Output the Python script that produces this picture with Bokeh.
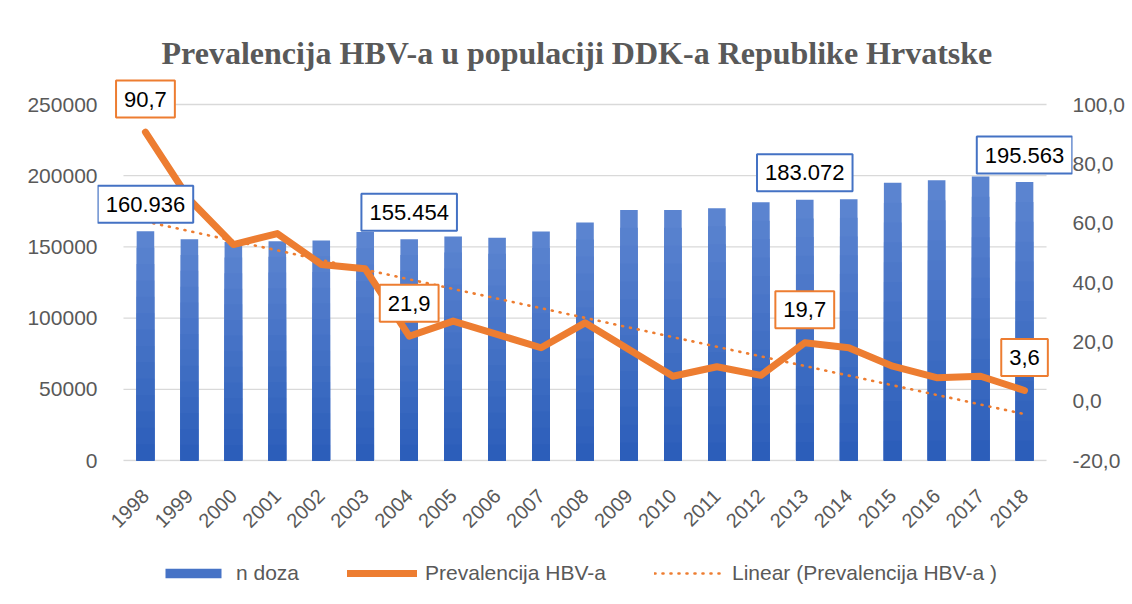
import numpy as np
from bokeh.plotting import figure
from bokeh.layouts import column
from bokeh.models import (Range1d, LinearAxis, FixedTicker, CustomJSTickFormatter,
                          Label, Legend, LegendItem)
from bokeh.embed import file_html
from bokeh.resources import INLINE

# ---------------- data ----------------
years = list(range(1998, 2019))
n_doza = [160936, 155400, 153500, 154000, 154500, 160500, 155454, 157300, 156400, 160800,
          167100, 176000, 176000, 177200, 181400, 183072, 183500, 195000, 196800, 199500, 195563]
prevalencija = [90.7, 68.0, 52.8, 56.5, 46.1, 44.6, 21.9, 27.0, 22.5, 18.0,
                26.4, 17.4, 8.4, 11.6, 8.7, 19.7, 18.0, 11.8, 7.9, 8.4, 3.6]
left_ticks = [0, 50000, 100000, 150000, 200000, 250000]
right_ticks = [-20, 0, 20, 40, 60, 80, 100]
bar_label_years = [1998, 2004, 2013, 2018]
line_label_years = [1998, 2004, 2013, 2018]
title_text = "Prevalencija HBV-a u populaciji DDK-a Republike Hrvatske"
legend_labels = ["n doza", "Prevalencija HBV-a", "Linear (Prevalencija HBV-a )"]

# ---------------- style / layout ----------------
BLUE = "#4472C4"
ORANGE = "#ED7D31"
GREY = "#595959"
GRID = "#d9d9d9"
SANS = "Liberation Sans"

W, H = 1128, 540
LEG_H = 56
FRAME_L, FRAME_R, FRAME_T, FRAME_B = 97, 1073, 78, 461     # canvas px
PX_PER_CAT = 44.0
ZERO_Y = 460                                               # canvas px of value 0
TOP_Y = 104                                                # canvas px of 250000 / 100,0
cat_half_extra = (FRAME_R - FRAME_L - PX_PER_CAT * (len(years) - 1)) / 2 / PX_PER_CAT

x_range = Range1d(years[0] - cat_half_extra, years[-1] + cat_half_extra)
l_per_px = (left_ticks[-1] - left_ticks[0]) / (ZERO_Y - TOP_Y)
r_per_px = (right_ticks[-1] - right_ticks[0]) / (ZERO_Y - TOP_Y)
y_range = Range1d(left_ticks[0] - (FRAME_B - ZERO_Y) * l_per_px,
                  left_ticks[-1] + (TOP_Y - FRAME_T) * l_per_px)
r_range = Range1d(right_ticks[0] - (FRAME_B - ZERO_Y) * r_per_px,
                  right_ticks[-1] + (TOP_Y - FRAME_T) * r_per_px)

p = figure(x_range=x_range, y_range=y_range, width=W, height=H,
           output_backend="svg", toolbar_location=None,
           min_border_left=FRAME_L, min_border_right=W - FRAME_R,
           min_border_top=FRAME_T, min_border_bottom=H - FRAME_B)
p.outline_line_color = None
p.background_fill_color = "white"
p.border_fill_color = "white"

# title
p.title.text = title_text
p.title.text_font = "Liberation Serif"
p.title.text_font_size = "32px"
p.title.text_font_style = "bold"
p.title.text_color = GREY
p.title.align = "left"
p.title.offset = 64
p.title.standoff = 16

# left axis
la = p.yaxis[0]
la.ticker = FixedTicker(ticks=left_ticks)
la.formatter = CustomJSTickFormatter(code="return tick.toFixed(0)")
la.axis_line_color = None
la.major_tick_line_color = None
la.minor_tick_line_color = None
la.major_tick_out = 0
la.major_tick_in = 0
la.minor_tick_out = 0
la.major_label_text_font = SANS
la.major_label_text_font_size = "21px"
la.major_label_text_color = GREY
la.major_label_standoff = 0

# right axis
p.extra_y_ranges = {"prev": r_range}
rax = LinearAxis(y_range_name="prev", ticker=FixedTicker(ticks=right_ticks),
                 formatter=CustomJSTickFormatter(code="return tick.toFixed(1).replace('.', ',')"))
rax.axis_line_color = None
rax.major_tick_line_color = None
rax.minor_tick_line_color = None
rax.major_tick_out = 0
rax.major_tick_in = 0
rax.minor_tick_out = 0
rax.major_label_text_font = SANS
rax.major_label_text_font_size = "21px"
rax.major_label_text_color = GREY
rax.major_label_standoff = 0
p.add_layout(rax, "right")

# x axis
xa = p.xaxis[0]
xa.ticker = FixedTicker(ticks=years)
xa.formatter = CustomJSTickFormatter(code="return tick.toFixed(0)")
xa.axis_line_color = None
xa.major_tick_line_color = None
xa.minor_tick_line_color = None
xa.major_tick_out = 0
xa.major_tick_in = 0
xa.minor_tick_out = 0
xa.major_label_orientation = np.pi / 4
xa.major_label_text_font = SANS
xa.major_label_text_font_size = "20px"
xa.major_label_text_color = GREY
xa.major_label_standoff = 31

# grid (drawn only across the category span)
p.xgrid.grid_line_color = None
p.ygrid.grid_line_color = None
p.segment(x0=[years[0] - 0.5] * len(left_ticks), y0=left_ticks,
          x1=[years[-1] + 0.5] * len(left_ticks), y1=left_ticks,
          line_color=GRID, line_width=1.3)

# bars with vertical gradient (nested bars, lightest full height first)
top_rgb = np.array([91, 132, 208])
bot_rgb = np.array([44, 94, 186])
N = 14
for k in range(N):
    frac = 1 - k / N
    t = k / (N - 1)
    c = (top_rgb * (1 - t) + bot_rgb * t).round().astype(int)
    color = "#%02x%02x%02x" % tuple(c)
    p.vbar(x=years, top=[v * frac for v in n_doza], width=0.4,
           fill_color=color, line_color=None)

# trend line (linear fit of the prevalence series)
xi = np.array(years, dtype=float)
slope, intercept = np.polyfit(xi, prevalencija, 1)
trend_x = [years[0], years[-1]]
trend_y = [intercept + slope * years[0], intercept + slope * years[-1]]
p.line(trend_x, trend_y, y_range_name="prev",
       line_color=ORANGE, line_width=2.6, line_dash="1 7", line_cap="round")

# prevalence line
p.line(years, prevalencija, y_range_name="prev", line_color=ORANGE,
       line_width=7, line_join="round", line_cap="round")

# data labels
for yr in bar_label_years:
    i = years.index(yr)
    txt = f"{n_doza[i]:,}".replace(",", ".")
    p.add_layout(Label(x=yr, y=n_doza[i], text=txt, text_align="center",
                       text_baseline="middle", y_offset=27,
                       text_font=SANS, text_font_size="22px", text_color="black",
                       background_fill_color="white", border_line_color=BLUE,
                       border_line_width=2, padding=(8, 11)))
for yr in line_label_years:
    i = years.index(yr)
    txt = f"{prevalencija[i]:.1f}".replace(".", ",")
    p.add_layout(Label(x=yr, y=prevalencija[i], y_range_name="prev", text=txt,
                       text_align="center", text_baseline="middle", y_offset=33,
                       text_font=SANS, text_font_size="22px", text_color="black",
                       background_fill_color="white", border_line_color=ORANGE,
                       border_line_width=2, padding=(8, 11)))

# ---------------- legend strip (separate small figure, frame aligned with p) ----------------
q = figure(width=W, height=LEG_H, output_backend="svg", toolbar_location=None,
           x_range=Range1d(0, 1), y_range=Range1d(0, 1),
           min_border_left=0, min_border_right=0, min_border_top=0, min_border_bottom=0)
q.axis.visible = False
q.grid.grid_line_color = None
q.outline_line_color = None
q.background_fill_color = "white"
q.border_fill_color = "white"
nan = float("nan")
k_bar = q.quad(left=[nan], right=[nan], top=[nan], bottom=[nan],
               fill_color="#4673c6", line_color=None)
k_line = q.line(x=[nan], y=[nan], line_color=ORANGE, line_width=7, line_cap="round")
k_trend = q.line(x=[nan], y=[nan], line_color=ORANGE, line_width=2.6,
                 line_dash="1 7", line_cap="round")
legend = Legend(items=[LegendItem(label=legend_labels[0], renderers=[k_bar]),
                       LegendItem(label=legend_labels[1], renderers=[k_line]),
                       LegendItem(label=legend_labels[2], renderers=[k_trend])],
                orientation="horizontal", location=(61, 11),
                glyph_width=70, glyph_height=12, label_standoff=8, spacing=48,
                label_text_font=SANS, label_text_font_size="21px", label_text_color=GREY,
                border_line_color=None, background_fill_alpha=0, padding=0, margin=0)
q.add_layout(legend)

open("out.html", "w").write(file_html(column(p, q), INLINE))
